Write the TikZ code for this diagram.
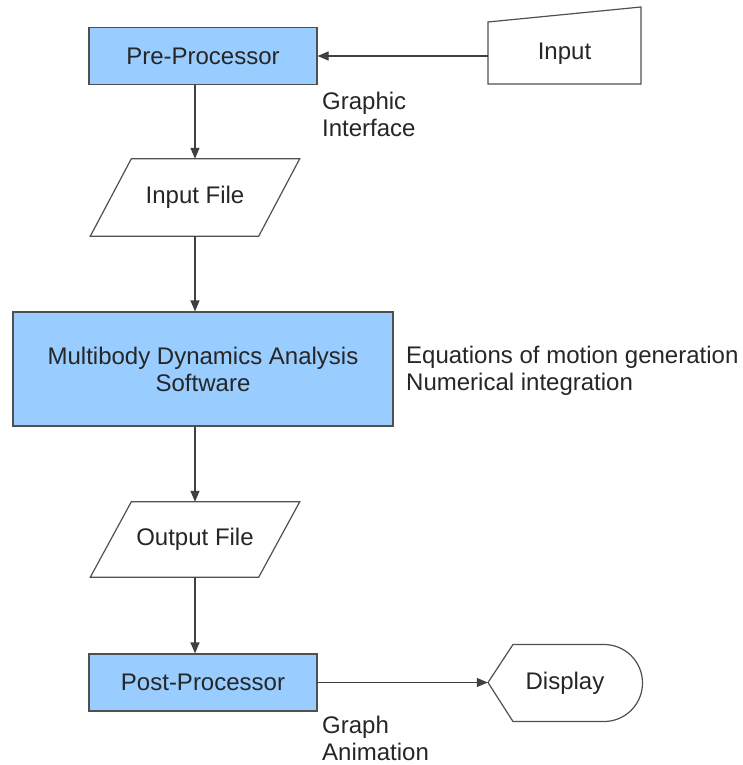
\documentclass[tikz,border=0pt]{standalone}
\usepackage{fontspec}
\setmainfont{Liberation Sans}
\usetikzlibrary{arrows.meta}
\definecolor{boxfill}{HTML}{99CCFF}
\definecolor{edge}{HTML}{505050}
\definecolor{txt}{HTML}{262626}
\begin{document}
\begin{tikzpicture}[x=1pt,y=-1pt,
  font=\fontsize{24}{27}\selectfont, text=txt,
  proc/.style={draw=edge, line width=1.2pt, fill=boxfill, inner sep=0pt},
  txtnode/.style={inner sep=0pt},
  outline/.style={draw=edge, line width=1.2pt, fill=white},
  lab/.style={inner sep=0pt, anchor=west, align=left},
  arr/.style={draw=black!75, line width=1.2pt, -{Triangle[length=11pt,width=9pt]}}]
\useasboundingbox (0,0) rectangle (743,765);
\fill[white] (0,0) rectangle (743,765);

% Pre-Processor
\node[proc, minimum width=228, minimum height=57] (prep) at (203,56) {Pre-Processor};

% Input (manual input shape)
\draw[outline] (488,22) -- (641,7) -- (641,84) -- (488,84) -- cycle;
\node[txtnode, minimum width=153, minimum height=62] (input) at (564.5,54) {Input};

% Input File (parallelogram)
\node[txtnode, minimum width=168, minimum height=77] (infile) at (195,197.5) {};
\draw[outline] ([xshift=20.5]infile.north west) -- ([xshift=20.5]infile.north east)
  -- ([xshift=-20.5]infile.south east) -- ([xshift=-20.5]infile.south west) -- cycle;
\node[txtnode] at (infile) {Input File};

% Multibody box
\node[proc, minimum width=380, minimum height=114, align=center] (mbd) at (203,369)
  {Multibody Dynamics Analysis\\Software};

% Output File (parallelogram)
\node[txtnode, minimum width=168, minimum height=75] (outfile) at (195,539.5) {};
\draw[outline] ([xshift=20.5]outfile.north west) -- ([xshift=20.5]outfile.north east)
  -- ([xshift=-20.5]outfile.south east) -- ([xshift=-20.5]outfile.south west) -- cycle;
\node[txtnode] at (outfile) {Output File};

% Post-Processor
\node[proc, minimum width=228, minimum height=57] (post) at (203,682.5) {Post-Processor};

% Display shape
\draw[outline] (488,682.5) -- (513,644.5) -- (604,644.5)
  .. controls (625.3,644.5) and (642.5,661.7) .. (642.5,683)
  .. controls (642.5,704.3) and (625.3,721.5) .. (604,721.5)
  -- (513,721.5) -- cycle;
\node[txtnode, minimum width=154, minimum height=77] (disp) at (565,683.5) {Display};

% Labels
\node[lab] (glab) at (322,114.5) {Graphic\\Interface};
\node[lab] (elab) at (406,371) {Equations of motion generation\\Numerical integration};
\node[lab] (alab) at (322,738) {Graph\\Animation};

% Connectors
\draw[arr] (prep.east -| input.west) -- (prep.east);
\draw[arr] (prep.south -| infile.north) -- (infile.north);
\draw[arr] (infile.south) -- (infile.south |- mbd.north);
\draw[arr] (mbd.south -| outfile.north) -- (outfile.north);
\draw[arr] (outfile.south) -- (outfile.south |- post.north);
\draw[arr] (post.east) -- (post.east -| disp.west);
\end{tikzpicture}
\end{document}
